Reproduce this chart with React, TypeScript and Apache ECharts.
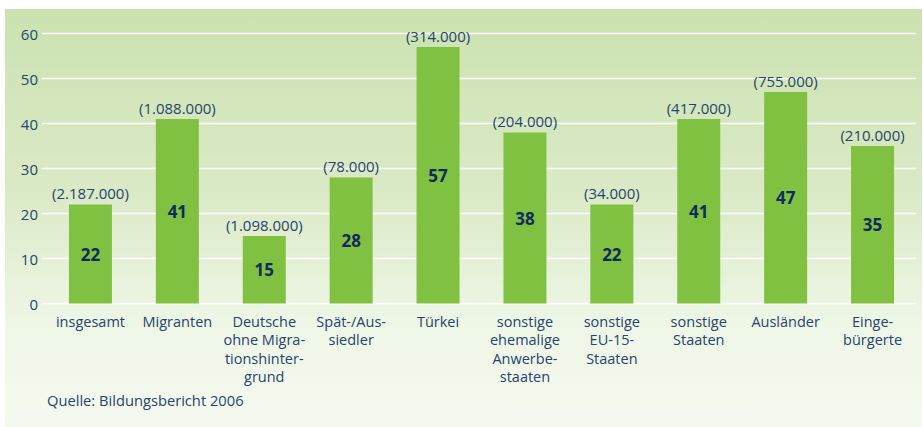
import React, { useEffect, useRef } from "react";
import * as echarts from "echarts";

const categories = [
  "insgesamt",
  "Migranten",
  "Deutsche\nohne Migra-\ntionshinter-\ngrund",
  "Spät-/Aus-\nsiedler",
  "Türkei",
  "sonstige\nehemalige\nAnwerbe-\nstaaten",
  "sonstige\nEU-15-\nStaaten",
  "sonstige\nStaaten",
  "Ausländer",
  "Einge-\nbürgerte",
];
const values = [22, 41, 15, 28, 57, 38, 22, 41, 47, 35];
const counts = [
  "(2.187.000)",
  "(1.088.000)",
  "(1.098.000)",
  "(78.000)",
  "(314.000)",
  "(204.000)",
  "(34.000)",
  "(417.000)",
  "(755.000)",
  "(210.000)",
];
const sourceText = "Quelle: Bildungsbericht 2006";

const FONT = "'Open Sans', 'Noto Sans', sans-serif";
const TEXT = "#26446d";
const NUM = "#0f2a5c";
const BAR = "#80c142";

export default function App() {
  const ref = useRef<HTMLDivElement>(null);
  useEffect(() => {
    document.body.style.margin = "0";
    if (!ref.current) return;
    const chart = echarts.init(ref.current, null, { renderer: "svg" });
    chart.setOption({
      animation: false,
      backgroundColor: "transparent",
      textStyle: { fontFamily: FONT },
      grid: [
        { left: 47, top: 33.5, width: 869, height: 270, containLabel: false },
        { left: 42, top: 33.5, width: 874, height: 270, containLabel: false },
      ],
      xAxis: [
        {
          type: "category",
          gridIndex: 0,
          data: categories,
          axisLine: { show: false },
          axisTick: { show: false },
          axisLabel: {
            interval: 0,
            margin: 9,
            fontSize: 14.5,
            lineHeight: 18.3,
            color: TEXT,
            fontFamily: FONT,
          },
        },
        {
          type: "category",
          gridIndex: 1,
          data: categories,
          show: false,
        },
      ],
      yAxis: [
        {
          type: "value",
          gridIndex: 0,
          min: 0,
          max: 60,
          interval: 10,
          axisLabel: { show: false },
          splitLine: { show: false },
          axisLine: { show: false },
          axisTick: { show: false },
        },
        {
          type: "value",
          gridIndex: 1,
          min: 0,
          max: 60,
          interval: 10,
          axisLine: { show: false },
          axisTick: { show: false },
          axisLabel: {
            margin: 4,
            fontSize: 15,
            color: TEXT,
            fontFamily: FONT,
          },
          splitLine: { show: true, lineStyle: { color: "#ffffff", width: 1.3 } },
        },
      ],
      graphic: [
        {
          type: "text",
          left: 47,
          top: 392,
          style: {
            text: sourceText,
            fontSize: 14.7,
            fill: TEXT,
            fontFamily: FONT,
          },
        },
      ],
      series: [
        {
          type: "bar",
          xAxisIndex: 0,
          yAxisIndex: 0,
          data: values,
          barWidth: 43,
          z: 3,
          itemStyle: { color: BAR },
          label: {
            show: true,
            position: "inside",
            fontSize: 17,
            fontWeight: "bold",
            color: NUM,
            fontFamily: FONT,
          },
        },
        {
          type: "bar",
          xAxisIndex: 0,
          yAxisIndex: 0,
          data: values,
          barWidth: 43,
          barGap: "-100%",
          z: 4,
          itemStyle: { color: "transparent" },
          label: {
            show: true,
            position: "top",
            distance: 4,
            fontSize: 15,
            color: TEXT,
            fontFamily: FONT,
            formatter: (p: any) => counts[p.dataIndex],
          },
        },
      ],
    });
    return () => chart.dispose();
  }, []);
  return (
    <div style={{ position: "relative", width: 923, height: 427, background: "#ffffff" }}>
      <div
        style={{
          position: "absolute",
          left: 5,
          top: 9,
          width: 917,
          height: 418,
          background: "linear-gradient(to bottom, #cbe2b0 0%, #dbeac7 45%, #eef6e6 75%, #f5faf0 100%)",
        }}
      />
      <div ref={ref} style={{ position: "absolute", left: 0, top: 0, width: 923, height: 427 }} />
    </div>
  );
}
